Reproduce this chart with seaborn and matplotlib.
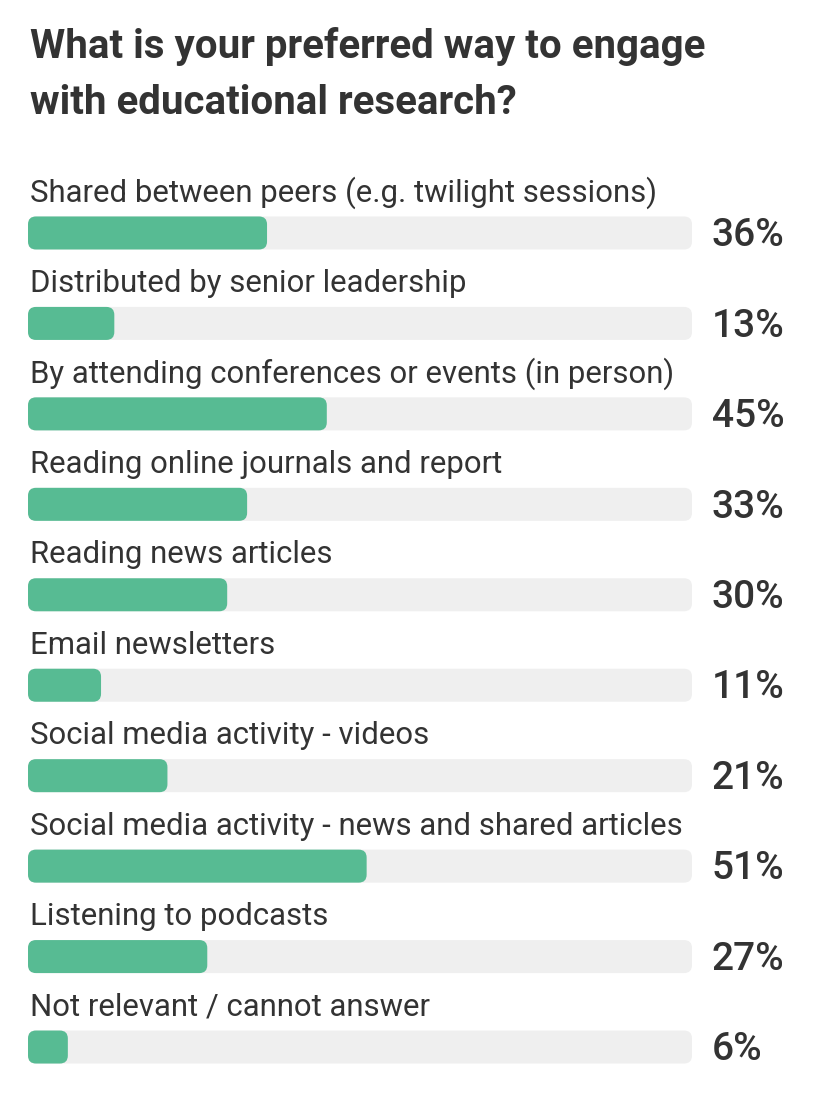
import seaborn as sns
import matplotlib.pyplot as plt
import pandas as pd
from matplotlib.patches import FancyBboxPatch

# Survey data
answers = [
    "Shared between peers (e.g. twilight sessions)",
    "Distributed by senior leadership",
    "By attending conferences or events (in person)",
    "Reading online journals and report",
    "Reading news articles",
    "Email newsletters",
    "Social media activity - videos",
    "Social media activity - news and shared articles",
    "Listening to podcasts",
    "Not relevant / cannot answer",
]
percents = [36, 13, 45, 33, 30, 11, 21, 51, 27, 6]
full_scale = [100] * len(answers)

df = pd.DataFrame({"answer": answers, "pct": percents, "track": full_scale})

sns.set_theme(style="white")
plt.rcParams['font.family'] = ['Roboto', 'DejaVu Sans']

text_color = "#333333"
green = "#57bb93"
track_color = "#efefef"

fig = plt.figure(figsize=(8.24, 11.11), dpi=100)
fig.patch.set_facecolor("white")
ax = fig.add_axes([28 / 824, 1 - 1092.25 / 1111, 664 / 824, 904.5 / 1111])

# grey track, then the green share on top
sns.barplot(data=df, y="answer", x="track", color=track_color, saturation=1,
            width=0.365, orient="h", linewidth=0, ax=ax)
sns.barplot(data=df, y="answer", x="pct", color=green, saturation=1,
            width=0.365, orient="h", linewidth=0, ax=ax)

# swap plain rectangles for rounded ones
for bar in list(ax.patches):
    rounded = FancyBboxPatch(
        (bar.get_x(), bar.get_y()), bar.get_width(), bar.get_height(),
        boxstyle="round,pad=0,rounding_size=1.2", mutation_aspect=0.0734,
        facecolor=bar.get_facecolor(), edgecolor="none")
    bar.remove()
    ax.add_patch(rounded)

ax.set_xlim(0, 100)
ax.set_ylim(len(answers) - 0.5, -0.5)
ax.axis("off")

for i, (a, p) in enumerate(zip(answers, percents)):
    ax.text(0.3, i - 0.44, a, ha="left", va="center", fontsize=22.4,
            color=text_color, clip_on=False)
    ax.text(103.0, i + 0.03, f"{p}%", ha="left", va="center", fontsize=28,
            fontweight="medium", color=text_color, clip_on=False)

fig.text(30 / 824, 1 - 47 / 1111, "What is your preferred way to engage",
         ha="left", va="center", fontsize=29, fontweight="bold", color=text_color)
fig.text(30 / 824, 1 - 103 / 1111, "with educational research?",
         ha="left", va="center", fontsize=29, fontweight="bold", color=text_color)

fig.savefig("out.png", dpi=100)
